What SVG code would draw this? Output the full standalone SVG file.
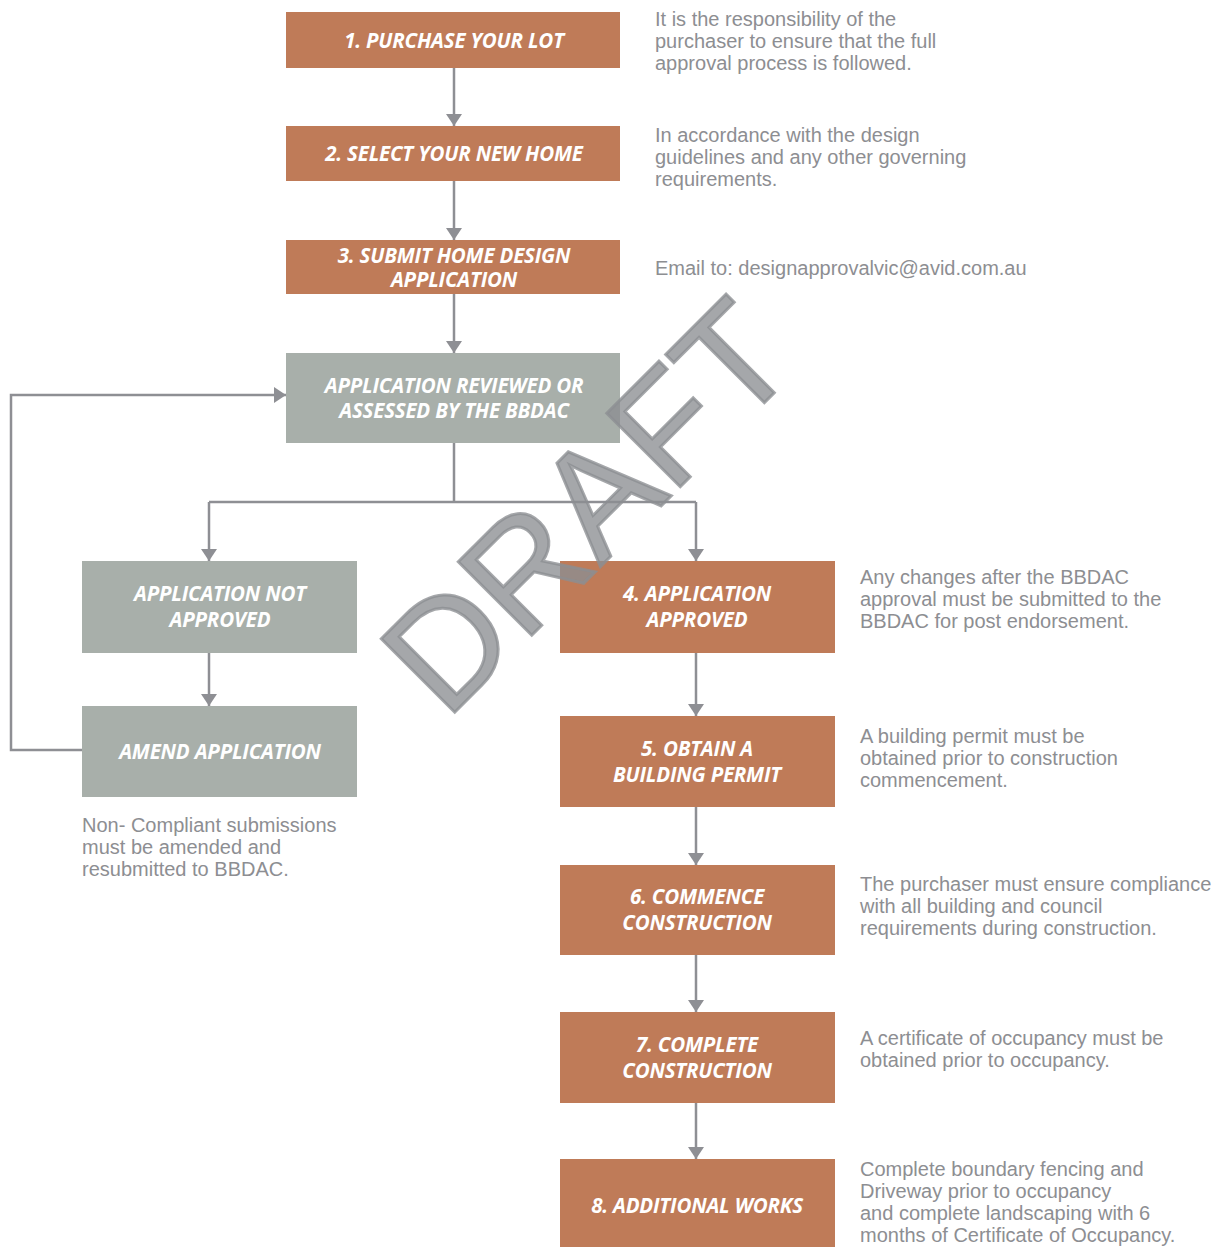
<svg xmlns="http://www.w3.org/2000/svg" width="1225" height="1247" viewBox="0 0 1225 1247">
<style>
.o{fill:#BF7B58}
.g{fill:#A8AFAA}
.bt{font-family:"Open Sans","Liberation Sans",sans-serif;font-weight:bold;font-style:italic;font-size:20.5px;fill:#fff;text-anchor:middle;letter-spacing:-0.2px}
.st{font-family:"Liberation Sans",Arial,sans-serif;font-size:20px;fill:#8D8E92}
.c{fill:none;stroke:#8E8F94;stroke-width:2.5}
</style>
<defs>
<marker id="ah" markerUnits="userSpaceOnUse" markerWidth="14" markerHeight="18" refX="12" refY="8" orient="auto">
<path d="M0,0 L12,8 L0,16 Z" fill="#8E8F94"/>
</marker>
</defs>
<rect width="1225" height="1247" fill="#fff"/>
<g id="connectors">
<path class="c" d="M454,68 V126" marker-end="url(#ah)"/>
<path class="c" d="M454,181 V240" marker-end="url(#ah)"/>
<path class="c" d="M454,294 V353" marker-end="url(#ah)"/>
<path class="c" d="M454,443 V502"/>
<path class="c" d="M209,502 H696"/>
<path class="c" d="M209,502 V561" marker-end="url(#ah)"/>
<path class="c" d="M696,502 V561" marker-end="url(#ah)"/>
<path class="c" d="M209,653 V706" marker-end="url(#ah)"/>
<path class="c" d="M82,750 H11 V395 H286" marker-end="url(#ah)"/>
<path class="c" d="M696,653 V716" marker-end="url(#ah)"/>
<path class="c" d="M696,807 V865" marker-end="url(#ah)"/>
<path class="c" d="M696,955 V1012" marker-end="url(#ah)"/>
<path class="c" d="M696,1103 V1159" marker-end="url(#ah)"/>
</g>
<g id="n1"><rect class="o" x="286" y="12" width="334" height="56"/><text class="bt" x="454" y="48">1. PURCHASE YOUR LOT</text></g>
<g id="n2"><rect class="o" x="286" y="126" width="334" height="55"/><text class="bt" x="454" y="161">2. SELECT YOUR NEW HOME</text></g>
<g id="n3"><rect class="o" x="286" y="240" width="334" height="54"/><text class="bt" x="454" y="263">3. SUBMIT HOME DESIGN</text><text class="bt" x="454" y="287">APPLICATION</text></g>
<g id="review"><rect class="g" x="286" y="353" width="334" height="90"/><text class="bt" x="454" y="393">APPLICATION REVIEWED OR</text><text class="bt" x="454" y="418">ASSESSED BY THE BBDAC</text></g>
<g id="notapproved"><rect class="g" x="82" y="561" width="275" height="92"/><text class="bt" x="220" y="601">APPLICATION NOT</text><text class="bt" x="220" y="627">APPROVED</text></g>
<g id="amend"><rect class="g" x="82" y="706" width="275" height="91"/><text class="bt" x="220" y="759">AMEND APPLICATION</text></g>
<g id="n4"><rect class="o" x="560" y="561" width="275" height="92"/><text class="bt" x="697" y="601">4. APPLICATION</text><text class="bt" x="697" y="627">APPROVED</text></g>
<g id="n5"><rect class="o" x="560" y="716" width="275" height="91"/><text class="bt" x="697" y="756">5. OBTAIN A</text><text class="bt" x="697" y="782">BUILDING PERMIT</text></g>
<g id="n6"><rect class="o" x="560" y="865" width="275" height="90"/><text class="bt" x="697" y="904">6. COMMENCE</text><text class="bt" x="697" y="930">CONSTRUCTION</text></g>
<g id="n7"><rect class="o" x="560" y="1012" width="275" height="91"/><text class="bt" x="697" y="1052">7. COMPLETE</text><text class="bt" x="697" y="1078">CONSTRUCTION</text></g>
<g id="n8"><rect class="o" x="560" y="1159" width="275" height="92"/><text class="bt" x="697" y="1213">8. ADDITIONAL WORKS</text></g>
<g id="notes">
<text class="st" x="655" y="26">It is the responsibility of the</text>
<text class="st" x="655" y="48">purchaser to ensure that the full</text>
<text class="st" x="655" y="70">approval process is followed.</text>
<text class="st" x="655" y="142">In accordance with the design</text>
<text class="st" x="655" y="164">guidelines and any other governing</text>
<text class="st" x="655" y="186">requirements.</text>
<text class="st" x="655" y="275">Email to: designapprovalvic@avid.com.au</text>
<text class="st" x="860" y="584">Any changes after the BBDAC</text>
<text class="st" x="860" y="606">approval must be submitted to the</text>
<text class="st" x="860" y="628">BBDAC for post endorsement.</text>
<text class="st" x="860" y="743">A building permit must be</text>
<text class="st" x="860" y="765">obtained prior to construction</text>
<text class="st" x="860" y="787">commencement.</text>
<text class="st" x="860" y="891">The purchaser must ensure compliance</text>
<text class="st" x="860" y="913">with all building and council</text>
<text class="st" x="860" y="935">requirements during construction.</text>
<text class="st" x="860" y="1045">A certificate of occupancy must be</text>
<text class="st" x="860" y="1067">obtained prior to occupancy.</text>
<text class="st" x="860" y="1176">Complete boundary fencing and</text>
<text class="st" x="860" y="1198">Driveway prior to occupancy</text>
<text class="st" x="860" y="1220">and complete landscaping with 6</text>
<text class="st" x="860" y="1242">months of Certificate of Occupancy.</text>
<text class="st" x="82" y="832">Non- Compliant submissions</text>
<text class="st" x="82" y="854">must be amended and</text>
<text class="st" x="82" y="876">resubmitted to BBDAC.</text>
</g>
<g id="watermark"><text x="0" y="0" transform="translate(446,721) rotate(-45)" font-family="Liberation Sans, Arial, sans-serif" font-size="151" fill="#8C8E92" fill-opacity="0.78" stroke="#8C8E92" stroke-opacity="0.78" stroke-width="3">DRAFT</text></g>
</svg>
